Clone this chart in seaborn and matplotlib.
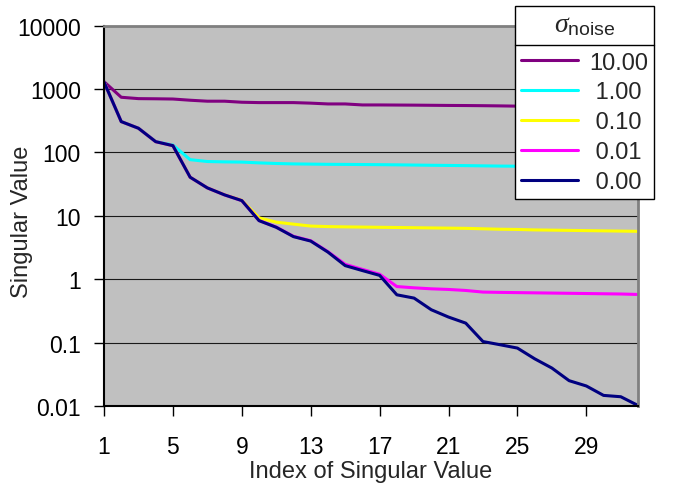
import numpy as np
import pandas as pd
import matplotlib
matplotlib.use("Agg")
import matplotlib.pyplot as plt
import seaborn as sns
from matplotlib.lines import Line2D
from matplotlib.ticker import NullLocator

# ---------------- data ----------------
index = list(range(1, 33))
noise_levels = ["10.00", "1.00", "0.10", "0.01", "0.00"]
sv_noise_10 = [1310, 743, 707, 703, 697, 667, 644, 644, 620, 612, 612, 612, 600, 583, 583, 562,
               562, 560, 558, 555, 552, 550, 547, 543, 538, 535, 532, 529, 526, 523, 520, 517]
sv_noise_1 = [1300, 307, 241, 149, 131, 77, 72, 71, 70.5, 68.5, 67, 66, 65.5, 65, 64.8, 64.5,
              64.2, 63.8, 63.3, 62.8, 62.4, 62, 61.5, 61, 60.7, 60.3, 60, 59.6, 59.2, 58.8, 58.4, 58]
sv_noise_01 = [1300, 307, 241, 148, 128, 40.7, 27.6, 21.5, 17.6, 9.3, 7.95, 7.4, 6.9, 6.77, 6.7, 6.65,
               6.6, 6.55, 6.5, 6.45, 6.4, 6.35, 6.25, 6.15, 6.1, 6.0, 5.95, 5.9, 5.85, 5.8, 5.75, 5.7]
sv_noise_001 = [1300, 307, 241, 148, 128, 40.7, 27.6, 21.4, 17.4, 8.45, 6.65, 4.75, 4.05, 2.72, 1.72, 1.43,
                1.2, 0.767, 0.732, 0.706, 0.69, 0.665, 0.627, 0.62, 0.615, 0.61, 0.605, 0.6, 0.595, 0.59, 0.585, 0.575]
sv_noise_0 = [1300, 307, 241, 148, 128, 40.7, 27.6, 21.4, 17.4, 8.4, 6.6, 4.7, 4.0, 2.68, 1.64, 1.37,
              1.15, 0.568, 0.504, 0.33, 0.253, 0.203, 0.104, 0.0925, 0.082, 0.0556, 0.0397, 0.0251,
              0.0207, 0.0147, 0.014, 0.0102]
x_ticks = [1, 5, 9, 13, 17, 21, 25, 29]
y_ticks = [0.01, 0.1, 1, 10, 100, 1000, 10000]
y_tick_labels = ["0.01", "0.1", "1", "10", "100", "1000", "10000"]
legend_labels = ["10.00", " 1.00", " 0.10", " 0.01", " 0.00"]

series = [sv_noise_10, sv_noise_1, sv_noise_01, sv_noise_001, sv_noise_0]
df = pd.concat(
    [pd.DataFrame({"index": index, "value": s, "noise": lvl}) for lvl, s in zip(noise_levels, series)],
    ignore_index=True,
)

colors = {"10.00": "#800080", "1.00": "#00FFFF", "0.10": "#FFFF00", "0.01": "#FF00FF", "0.00": "#000080"}

# ---------------- style ----------------
sns.set_style("white")
plt.rcParams["font.family"] = ["Liberation Sans", "DejaVu Sans"]
plt.rcParams["mathtext.fontset"] = "custom"
plt.rcParams["mathtext.it"] = "Liberation Serif:italic"
plt.rcParams["mathtext.rm"] = "Liberation Sans"
plt.rcParams["mathtext.sf"] = "Liberation Sans"

W, H = 678, 485
fig = plt.figure(figsize=(W / 100, H / 100), dpi=100)
fig.patch.set_facecolor("white")
L, R, T, B = 104, 638, 26.7, 407
ax = fig.add_axes([L / W, 1 - B / H, (R - L) / W, (B - T) / H])
ax.set_facecolor("#C0C0C0")

sns.lineplot(data=df, x="index", y="value", hue="noise", hue_order=noise_levels,
             palette=colors, linewidth=2.2, legend=False, ax=ax, estimator=None, sort=False)

ax.set_yscale("log")
ax.set_ylim(0.01, 10000)
ax.set_xlim(1, 32)
ax.set_yticks(y_ticks)
ax.set_yticklabels(y_tick_labels)
ax.yaxis.set_minor_locator(NullLocator())
ax.set_xticks(x_ticks)
ax.set_xticklabels([str(t) for t in x_ticks])
ax.tick_params(axis="x", direction="out", length=7, width=1, pad=14, labelsize=16.5, colors="black",
               bottom=True, top=False)
ax.tick_params(axis="y", direction="out", length=7, width=1, pad=9.6, labelsize=16.5, colors="black",
               left=True, right=False)
ax.grid(False)
ax.yaxis.grid(True, color="#1a1a1a", linewidth=0.8)

for side in ["left", "bottom"]:
    ax.spines[side].set_color("black")
    ax.spines[side].set_linewidth(1.5)
for side in ["top", "right"]:
    ax.spines[side].set_color("#808080")
    ax.spines[side].set_linewidth(2)

ax.set_xlabel("Index of Singular Value", fontsize=17)
ax.set_ylabel("Singular Value", fontsize=17)
ax.xaxis.set_label_coords(0.5, -0.141)
ax.yaxis.set_label_coords(-0.133, 0.488)

handles = ax.lines[:5]
leg = ax.legend(handles, legend_labels, loc="upper right",
                bbox_to_anchor=(654 / W, 1 - 6.7 / H), bbox_transform=fig.transFigure,
                borderaxespad=0, frameon=True, fancybox=False, framealpha=1,
                edgecolor="black", facecolor="white", fontsize=17,
                title=r"$\sigma_{\mathrm{noise}}$", title_fontsize=20,
                handlelength=2.4, handletextpad=0.5, borderpad=0.24, labelspacing=0.335)
leg.get_frame().set_linewidth(1.0)
# extra room between the title cell and the entries
leg._legend_box.sep = 0.335 * 17 + 4.5

fig.canvas.draw()
r = fig.canvas.get_renderer()
fb = leg.get_frame().get_window_extent(r)
eb = leg.get_texts()[0].get_window_extent(r)
ysep = eb.y1 + 6.5
inv = fig.transFigure.inverted()
(x0f, yf), (x1f, _) = inv.transform([(fb.x0, ysep), (fb.x1, ysep)])
fig.add_artist(Line2D([x0f, x1f], [yf, yf], transform=fig.transFigure, color="black", lw=1.0, zorder=10))

fig.savefig("out.png", dpi=100)
